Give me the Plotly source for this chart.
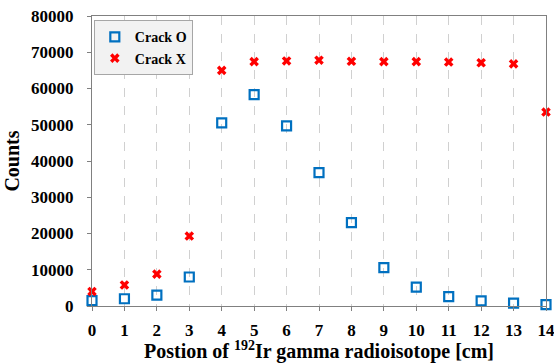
import plotly.graph_objects as go

positions = list(range(15))
crack_o = [1500, 2000, 3000, 8000, 50500, 58300, 49700, 36800, 23000, 10600, 5200, 2600, 1400, 800, 400]
crack_x = [4000, 5800, 8800, 19300, 65000, 67400, 67600, 67800, 67500, 67400, 67400, 67300, 67100, 66800, 53500]
y_ticks = [0, 10000, 20000, 30000, 40000, 50000, 60000, 70000, 80000]

font_family = "Liberation Serif, Times New Roman, serif"

fig = go.Figure()
fig.add_trace(go.Scatter(
    x=positions, y=crack_o, mode="markers", name="<b>Crack O</b>",
    marker=dict(symbol="square-open", size=9, color="#0070C0", line=dict(width=2.2, color="#0070C0")),
    cliponaxis=False,
))
fig.add_trace(go.Scatter(
    x=positions, y=crack_x, mode="markers", name="<b>Crack X</b>",
    marker=dict(symbol="x", size=8.5, color="#FF0000", line=dict(width=0)),
    cliponaxis=False,
))

fig.update_layout(
    width=554, height=363,
    margin=dict(l=92, r=8, t=16, b=57, autoexpand=False),
    paper_bgcolor="white", plot_bgcolor="white",
    font=dict(family=font_family, size=17, color="black"),
    showlegend=True,
    legend=dict(
        x=0.004, y=0.985, xanchor="left", yanchor="top",
        bgcolor="#F2F2F2", bordercolor="#A6A6A6", borderwidth=1,
        font=dict(family=font_family, size=14, color="black"),
        itemwidth=30, tracegroupgap=0,
    ),
    xaxis=dict(
        range=[0, 14], tickmode="array", tickvals=positions,
        ticktext=[f"<b>{p}</b>" for p in positions],
        showgrid=True, gridcolor="#D0D0D0", griddash="dash", gridwidth=1,
        showline=True, linecolor="#808080", linewidth=1, mirror=True,
        ticks="outside", ticklen=4, tickcolor="#808080",
        ticklabelstandoff=5, ticklabeloverflow="allow",
        zeroline=False, automargin=False,
        tickfont=dict(family=font_family, size=17),
        title=dict(text="<b>Postion of <sup>192</sup>Ir gamma radioisotope [cm]</b>",
                   font=dict(family=font_family, size=20), standoff=6),
    ),
    yaxis=dict(
        range=[0, 80000], tickmode="array", tickvals=y_ticks,
        ticktext=[f"<b>{v}</b>" for v in y_ticks],
        showgrid=False,
        showline=True, linecolor="#808080", linewidth=1, mirror=True,
        ticks="outside", ticklen=4, tickcolor="#808080",
        ticklabelstandoff=10, ticklabeloverflow="allow",
        zeroline=False, automargin=False,
        tickfont=dict(family=font_family, size=17),
        title=dict(text="<b>Counts</b>", font=dict(family=font_family, size=20), standoff=6),
    ),
)

fig.write_html(
    "out.html",
    config={"displayModeBar": False},
    post_script="document.body.style.margin='0';document.body.style.overflow='hidden';",
)
